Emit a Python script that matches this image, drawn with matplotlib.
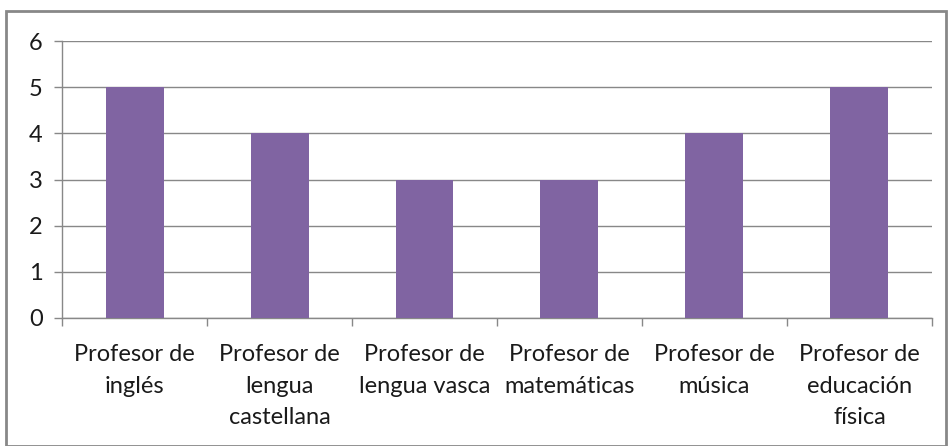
import matplotlib
matplotlib.use("Agg")
from matplotlib import pyplot as plt
from matplotlib.patches import Rectangle
import numpy as np

categories = ["Profesor de\ninglés", "Profesor de\nlengua\ncastellana",
              "Profesor de\nlengua vasca", "Profesor de\nmatemáticas",
              "Profesor de\nmúsica", "Profesor de\neducación\nfísica"]
values = [5, 4, 3, 3, 4, 5]

plt.rcParams['font.family'] = ['Lato', 'DejaVu Sans']
grey = "#888888"

fig = plt.figure(figsize=(9.5, 4.46), dpi=100)
ax = fig.add_axes([0.0653, 0.287, 0.9157, 0.621])

x = np.arange(len(categories))
ax.bar(x, values, width=0.4, color="#8064A2", zorder=3)

ax.set_xlim(-0.5, len(categories) - 0.5)
ax.set_ylim(0, 6)
ax.set_yticks(range(0, 7))
ax.yaxis.grid(True, color=grey, linewidth=1)
ax.set_axisbelow(True)

ax.set_xticks(x)
ax.set_xticklabels(categories, fontsize=17, linespacing=1.6, color="#1a1a1a")
ax.set_xticks(np.arange(len(categories) + 1) - 0.5, minor=True)
ax.tick_params(axis="x", which="major", length=0, pad=19)
ax.tick_params(axis="x", which="minor", length=6, color=grey, width=1)
ax.tick_params(axis="y", length=6, color=grey, width=1, pad=8,
               labelsize=17, labelcolor="#1a1a1a")

for side in ["top", "right"]:
    ax.spines[side].set_visible(False)
for side in ["left", "bottom"]:
    ax.spines[side].set_color(grey)
    ax.spines[side].set_linewidth(1)

fig.patches.append(Rectangle((0.006, 0.0), 0.99, 0.976, transform=fig.transFigure,
                             fill=False, edgecolor=grey, linewidth=2))

fig.savefig("out.png", dpi=100)
